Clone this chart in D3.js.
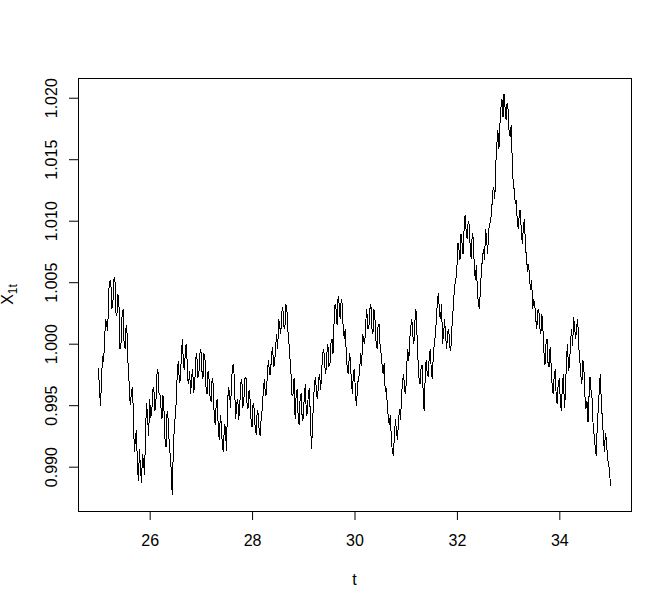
<!DOCTYPE html>
<html lang="en">
<head>
    <meta charset="UTF-8">
    <title>X1t path</title>
    <script src="https://cdn.jsdelivr.net/npm/d3@7"></script>
    <style>
        body { margin: 0; background: #fff; }
        text { font-family: "Liberation Sans", Arial, sans-serif; fill: #000; }
    </style>
</head>
<body>
<script>

    // time grid: 25 to 35, step 0.04 (plus the half steps in between)
    var tStart = 25, tStep = 0.04;

    // values at t = 25, 25.04, 25.08, ...
    var x1t = [
        0.9980, 0.9949, 0.9990, 1.0004, 1.0016, 1.0043, 1.0052, 1.0032, 1.0054, 1.0023,
        1.0032, 1.0000, 1.0028, 0.9996, 1.0008, 0.9967, 0.9959, 0.9947, 0.9922, 0.9902,
        0.9914, 0.9887, 0.9904, 0.9931, 0.9939, 0.9955, 0.9943, 0.9965, 0.9951, 0.9979,
        0.9959, 0.9939, 0.9945, 0.9916, 0.9939, 0.9910, 0.9877, 0.9931, 0.9953, 0.9986,
        0.9971, 1.0004, 0.9979, 1.0000, 0.9967, 0.9959, 0.9979, 0.9967, 0.9992, 0.9975,
        0.9996, 0.9971, 0.9987, 0.9959, 0.9971, 0.9953, 0.9967, 0.9934, 0.9955, 0.9922,
        0.9934, 0.9912, 0.9931, 0.9951, 0.9959, 0.9971, 0.9983, 0.9939, 0.9955, 0.9951,
        0.9971, 0.9955, 0.9973, 0.9947, 0.9955, 0.9932, 0.9947, 0.9926, 0.9943, 0.9925,
        0.9947, 0.9971, 0.9959, 0.9987, 0.9975, 0.9997, 0.9983, 1.0008, 1.0020, 1.0008,
        1.0030, 1.0012, 1.0028, 1.0000, 0.9975, 0.9959, 0.9939, 0.9963, 0.9934, 0.9959,
        0.9939, 0.9967, 0.9943, 0.9963, 0.9914, 0.9955, 0.9973, 0.9955, 0.9975, 0.9979,
        0.9996, 0.9975, 1.0000, 0.9983, 1.0004, 1.0016, 1.0028, 1.0039, 1.0020, 1.0032,
        1.0004, 0.9992, 0.9975, 0.9987, 0.9959, 0.9979, 0.9949, 0.9971, 0.9992, 1.0008,
        1.0000, 1.0028, 1.0012, 1.0032, 1.0008, 1.0020, 0.9996, 1.0016, 0.9992, 0.9975,
        0.9961, 0.9951, 0.9934, 0.9922, 0.9909, 0.9939, 0.9922, 0.9947, 0.9959, 0.9975,
        0.9959, 0.9996, 1.0004, 1.0020, 1.0000, 1.0028, 0.9987, 0.9967, 0.9983, 0.9945,
        0.9987, 0.9973, 0.9996, 0.9971, 1.0000, 1.0020, 1.0041, 1.0020, 1.0000, 1.0020,
        0.9996, 1.0012, 0.9994, 1.0024, 1.0048, 1.0062, 1.0077, 1.0089, 1.0073, 1.0105,
        1.0085, 1.0097, 1.0069, 1.0085, 1.0052, 1.0044, 1.0028, 1.0060, 1.0077, 1.0093,
        1.0073, 1.0097, 1.0109, 1.0127, 1.0146, 1.0174, 1.0178, 1.0199, 1.0203, 1.0182,
        1.0190, 1.0168, 1.0150, 1.0125, 1.0117, 1.0093, 1.0109, 1.0081, 1.0101, 1.0070,
        1.0065, 1.0044, 1.0028, 1.0032, 1.0012, 1.0028, 1.0008, 1.0012, 0.9983, 1.0004,
        0.9981, 0.9983, 0.9959, 0.9979, 0.9951, 0.9971, 0.9945, 0.9975, 0.9959, 1.0000,
        0.9983, 1.0012, 1.0022, 1.0004, 1.0020, 0.9987, 0.9967, 0.9979, 0.9947, 0.9936,
        0.9973, 0.9955, 0.9926, 0.9909, 0.9947, 0.9975, 0.9939, 0.9912, 0.9922, 0.9902,
        0.9884
    ];

    // values at the half steps t = 25.02, 25.06, ... (the fast wiggles)
    var x1tMid = [
        0.9962, 0.9972, 0.9985, 1.0020, 1.0010, 1.0050, 1.0028, 1.0052, 1.0025, 1.0040,
        0.9996, 1.0022, 1.0000, 1.0015, 0.9980, 0.9950, 0.9965, 0.9912, 0.9930, 0.9888,
        0.9898, 0.9910, 0.9893, 0.9952, 0.9925, 0.9940, 0.9962, 0.9945, 0.9975, 0.9960,
        0.9948, 0.9958, 0.9922, 0.9945, 0.9920, 0.9898, 0.9912, 0.9942, 0.9978, 0.9968,
        0.9992, 0.9982, 0.9998, 0.9972, 0.9978, 0.9974, 0.9960, 0.9988, 0.9972, 0.9992,
        0.9978, 0.9992, 0.9965, 0.9978, 0.9956, 0.9972, 0.9942, 0.9952, 0.9930, 0.9942,
        0.9916, 0.9935, 0.9913, 0.9965, 0.9948, 0.9982, 0.9962, 0.9952, 0.9938, 0.9968,
        0.9948, 0.9972, 0.9952, 0.9962, 0.9938, 0.9952, 0.9932, 0.9946, 0.9928, 0.9942,
        0.9962, 0.9958, 0.9978, 0.9975, 0.9992, 0.9982, 0.9998, 0.9996, 1.0014, 1.0026,
        1.0014, 1.0032, 1.0010, 0.9988, 0.9958, 0.9972, 0.9958, 0.9940, 0.9958, 0.9937,
        0.9958, 0.9942, 0.9962, 0.9938, 0.9932, 0.9968, 0.9958, 0.9972, 0.9962, 0.9992,
        0.9982, 0.9992, 0.9982, 1.0000, 0.9992, 1.0032, 1.0015, 1.0032, 1.0036, 1.0012,
        1.0012, 0.9978, 0.9992, 0.9968, 0.9978, 0.9958, 0.9968, 0.9978, 0.9982, 1.0002,
        1.0018, 1.0012, 1.0028, 1.0012, 1.0028, 1.0002, 1.0014, 0.9998, 0.9982, 0.9984,
        0.9964, 0.9940, 0.9942, 0.9912, 0.9926, 0.9928, 0.9938, 0.9938, 0.9970, 0.9962,
        0.9982, 0.9986, 1.0014, 1.0006, 1.0018, 1.0008, 0.9972, 0.9980, 0.9962, 0.9972,
        0.9976, 0.9990, 0.9978, 0.9992, 1.0008, 1.0036, 1.0024, 1.0032, 1.0008, 1.0006,
        1.0010, 0.9998, 1.0012, 1.0038, 1.0052, 1.0082, 1.0068, 1.0082, 1.0093, 1.0092,
        1.0100, 1.0078, 1.0090, 1.0062, 1.0064, 1.0032, 1.0046, 1.0070, 1.0068, 1.0085,
        1.0092, 1.0100, 1.0124, 1.0118, 1.0162, 1.0158, 1.0192, 1.0184, 1.0192, 1.0196,
        1.0172, 1.0178, 1.0130, 1.0114, 1.0098, 1.0107, 1.0088, 1.0097, 1.0078, 1.0058,
        1.0052, 1.0052, 1.0036, 1.0020, 1.0027, 1.0013, 1.0024, 0.9993, 1.0000, 0.9984,
        0.9997, 0.9966, 0.9974, 0.9956, 0.9970, 0.9953, 0.9967, 0.9948, 0.9988, 0.9978,
        1.0002, 0.9998, 1.0012, 1.0014, 0.9997, 0.9974, 0.9987, 0.9958, 0.9953, 0.9957,
        0.9962, 0.9934, 0.9916, 0.9932, 0.9962, 0.9953, 0.9925, 0.9927, 0.9908, 0.9897
    ];

    var xTicks = [26, 28, 30, 32, 34];
    var yTicks = [0.990, 0.995, 1.000, 1.005, 1.010, 1.015, 1.020];

    // put the two lists together in time order
    var data = [];
    x1t.forEach(function (v, i) {
        data.push({t: tStart + i * tStep, v: v});
        if (i < x1tMid.length) data.push({t: tStart + (i + 0.5) * tStep, v: x1tMid[i]});
    });

    var widthSVG = 672, heightSVG = 609;
    var box = {left: 78, right: 631, top: 78, bottom: 511};

    var svg = d3.select("body").append("svg")
                .attr("width", widthSVG)
                .attr("height", heightSVG);

    // R style: extend the data range by 4% on each side
    var tExt = d3.extent(data, function (d) { return d.t; });
    var vExt = d3.extent(data, function (d) { return d.v; });
    var tPad = (tExt[1] - tExt[0]) * 0.04, vPad = (vExt[1] - vExt[0]) * 0.04;

    var scaleX = d3.scaleLinear()
                    .domain([tExt[0] - tPad, tExt[1] + tPad])
                    .range([box.left, box.right]);
    var scaleY = d3.scaleLinear()
                    .domain([vExt[0] - vPad, vExt[1] + vPad])
                    .range([box.bottom, box.top]);

    // axes
    var axisX = d3.axisBottom(scaleX).tickValues(xTicks).tickSize(9).tickPadding(7)
                    .tickFormat(d3.format("d"));
    var axisY = d3.axisLeft(scaleY).tickValues(yTicks).tickSize(9).tickPadding(0)
                    .tickFormat(d3.format(".3f"));

    var gx = svg.append("g").attr("transform", "translate(0," + box.bottom + ")").call(axisX);
    var gy = svg.append("g").attr("transform", "translate(" + box.left + ",0)").call(axisY);

    [gx, gy].forEach(function (g) {
        g.select(".domain").remove();
        g.selectAll("line").attr("stroke", "#000").attr("stroke-width", 1);
        g.selectAll("text").attr("font-size", "16px")
            .attr("font-family", "'Liberation Sans', Arial, sans-serif").attr("fill", "#000");
    });
    gx.selectAll("text").attr("dy", null).attr("y", 35);

    // rotated y tick labels
    gy.selectAll(".tick text")
        .attr("x", null).attr("dy", null)
        .attr("text-anchor", "middle")
        .attr("transform", "translate(-21,0) rotate(-90)");

    // plot box
    svg.append("rect")
        .attr("x", box.left + 0.5).attr("y", box.top + 0.5)
        .attr("width", box.right - box.left).attr("height", box.bottom - box.top)
        .attr("fill", "none").attr("stroke", "#000").attr("stroke-width", 1);

    // the series (no anti-aliasing, like the R png device)
    var line = d3.line()
                .x(function (d) { return scaleX(d.t); })
                .y(function (d) { return scaleY(d.v); });

    svg.append("path")
        .datum(data)
        .attr("d", line)
        .attr("fill", "none")
        .attr("stroke", "#000")
        .attr("stroke-width", 1)
        .attr("shape-rendering", "crispEdges");

    // axis titles
    svg.append("text")
        .attr("x", (box.left + box.right) / 2).attr("y", 585)
        .attr("text-anchor", "middle").attr("font-size", "16px")
        .text("t");

    var yl = svg.append("text")
        .attr("transform", "translate(13," + ((box.top + box.bottom) / 2) + ") rotate(-90)")
        .attr("text-anchor", "middle").attr("font-size", "16px");
    yl.append("tspan").text("X");
    yl.append("tspan").attr("font-size", "12px").attr("dy", 4).text("1t");

</script>
</body>
</html>
